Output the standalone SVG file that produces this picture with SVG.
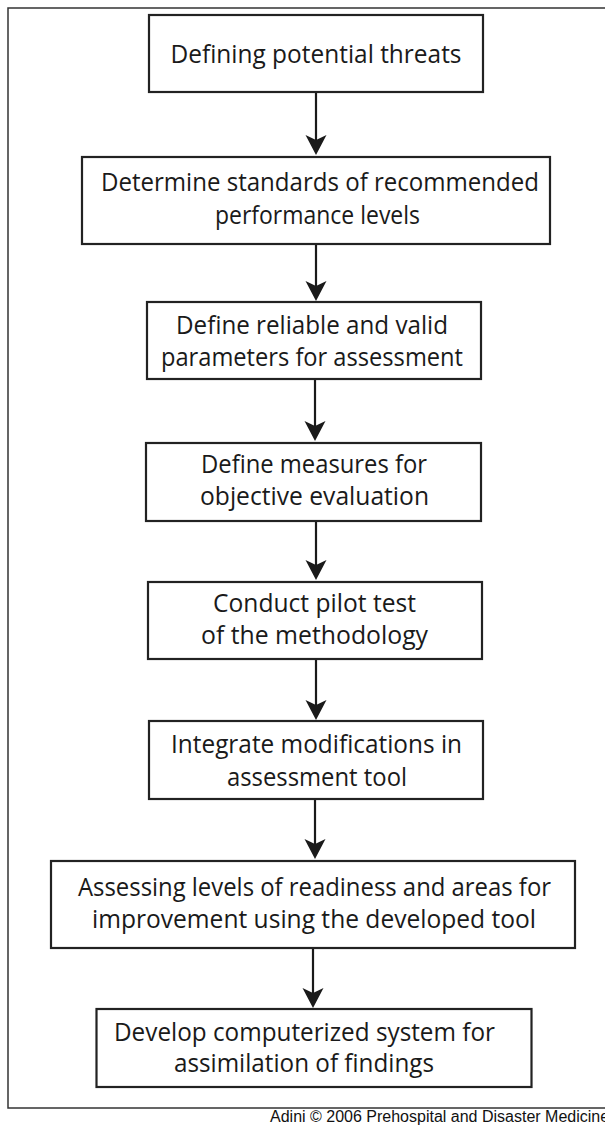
<svg xmlns="http://www.w3.org/2000/svg" width="605" height="1125" viewBox="0 0 605 1125">
<style>
.box{fill:#fff;stroke:#222;stroke-width:2.2}
.t{font-family:"Open Sans","Noto Sans","DejaVu Sans",sans-serif;font-size:25.5px;fill:#1a1a1a;text-anchor:middle}
.c{stroke:#1a1a1a;stroke-width:2.2;fill:none}
.frame{fill:none;stroke:#333;stroke-width:1.5}
.copy{font-family:"Liberation Sans",Arial,sans-serif;font-size:16px;fill:#111}
</style>
<defs>
<marker id="ah" markerUnits="userSpaceOnUse" viewBox="0 -11 20 22" markerWidth="20" markerHeight="22" refX="10" refY="0" orient="auto">
<path d="M0,-10.5 L20,0 L0,10.5 L5,0 Z" fill="#1a1a1a"/>
</marker>
</defs>
<rect class="frame" x="8" y="8" width="620" height="1100"/>
<g id="connectors">
<line class="c" x1="316" y1="92" x2="316" y2="145" marker-end="url(#ah)"/>
<line class="c" x1="316" y1="244" x2="316" y2="291" marker-end="url(#ah)"/>
<line class="c" x1="315" y1="379" x2="315" y2="431" marker-end="url(#ah)"/>
<line class="c" x1="316" y1="521" x2="316" y2="570" marker-end="url(#ah)"/>
<line class="c" x1="316" y1="659" x2="316" y2="710" marker-end="url(#ah)"/>
<line class="c" x1="315" y1="799" x2="315" y2="849" marker-end="url(#ah)"/>
<line class="c" x1="313" y1="948" x2="313" y2="998" marker-end="url(#ah)"/>
</g>
<g id="n1">
<rect class="box" x="149" y="15" width="334" height="77"/>
<text class="t" x="316" y="63" textLength="291" lengthAdjust="spacingAndGlyphs">Defining potential threats</text>
</g>
<g id="n2">
<rect class="box" x="82" y="157" width="468" height="87"/>
<text class="t" x="320" y="191" textLength="438" lengthAdjust="spacingAndGlyphs">Determine standards of recommended</text>
<text class="t" x="317.5" y="224" textLength="205" lengthAdjust="spacingAndGlyphs">performance levels</text>
</g>
<g id="n3">
<rect class="box" x="147" y="302" width="334" height="77"/>
<text class="t" x="312" y="334" textLength="272" lengthAdjust="spacingAndGlyphs">Define reliable and valid</text>
<text class="t" x="312" y="366" textLength="302" lengthAdjust="spacingAndGlyphs">parameters for assessment</text>
</g>
<g id="n4">
<rect class="box" x="146" y="443" width="335" height="78"/>
<text class="t" x="314" y="473" textLength="226" lengthAdjust="spacingAndGlyphs">Define measures for</text>
<text class="t" x="314.5" y="505" textLength="229" lengthAdjust="spacingAndGlyphs">objective evaluation</text>
</g>
<g id="n5">
<rect class="box" x="148" y="582" width="334" height="77"/>
<text class="t" x="314.5" y="612" textLength="203" lengthAdjust="spacingAndGlyphs">Conduct pilot test</text>
<text class="t" x="314.5" y="644" textLength="227" lengthAdjust="spacingAndGlyphs">of the methodology</text>
</g>
<g id="n6">
<rect class="box" x="149" y="721" width="334" height="78"/>
<text class="t" x="316.5" y="753" textLength="291" lengthAdjust="spacingAndGlyphs">Integrate modifications in</text>
<text class="t" x="317" y="786" textLength="180" lengthAdjust="spacingAndGlyphs">assessment tool</text>
</g>
<g id="n7">
<rect class="box" x="51" y="861" width="524" height="87"/>
<text class="t" x="314.5" y="896" textLength="473" lengthAdjust="spacingAndGlyphs">Assessing levels of readiness and areas for</text>
<text class="t" x="314" y="928" textLength="444" lengthAdjust="spacingAndGlyphs">improvement using the developed tool</text>
</g>
<g id="n8">
<rect class="box" x="96.5" y="1009" width="435" height="78"/>
<text class="t" x="304.5" y="1041" textLength="381" lengthAdjust="spacingAndGlyphs">Develop computerized system for</text>
<text class="t" x="304" y="1072" textLength="260" lengthAdjust="spacingAndGlyphs">assimilation of findings</text>
</g>
<text class="copy" x="270" y="1122">Adini © 2006 Prehospital and Disaster Medicine</text>
</svg>
